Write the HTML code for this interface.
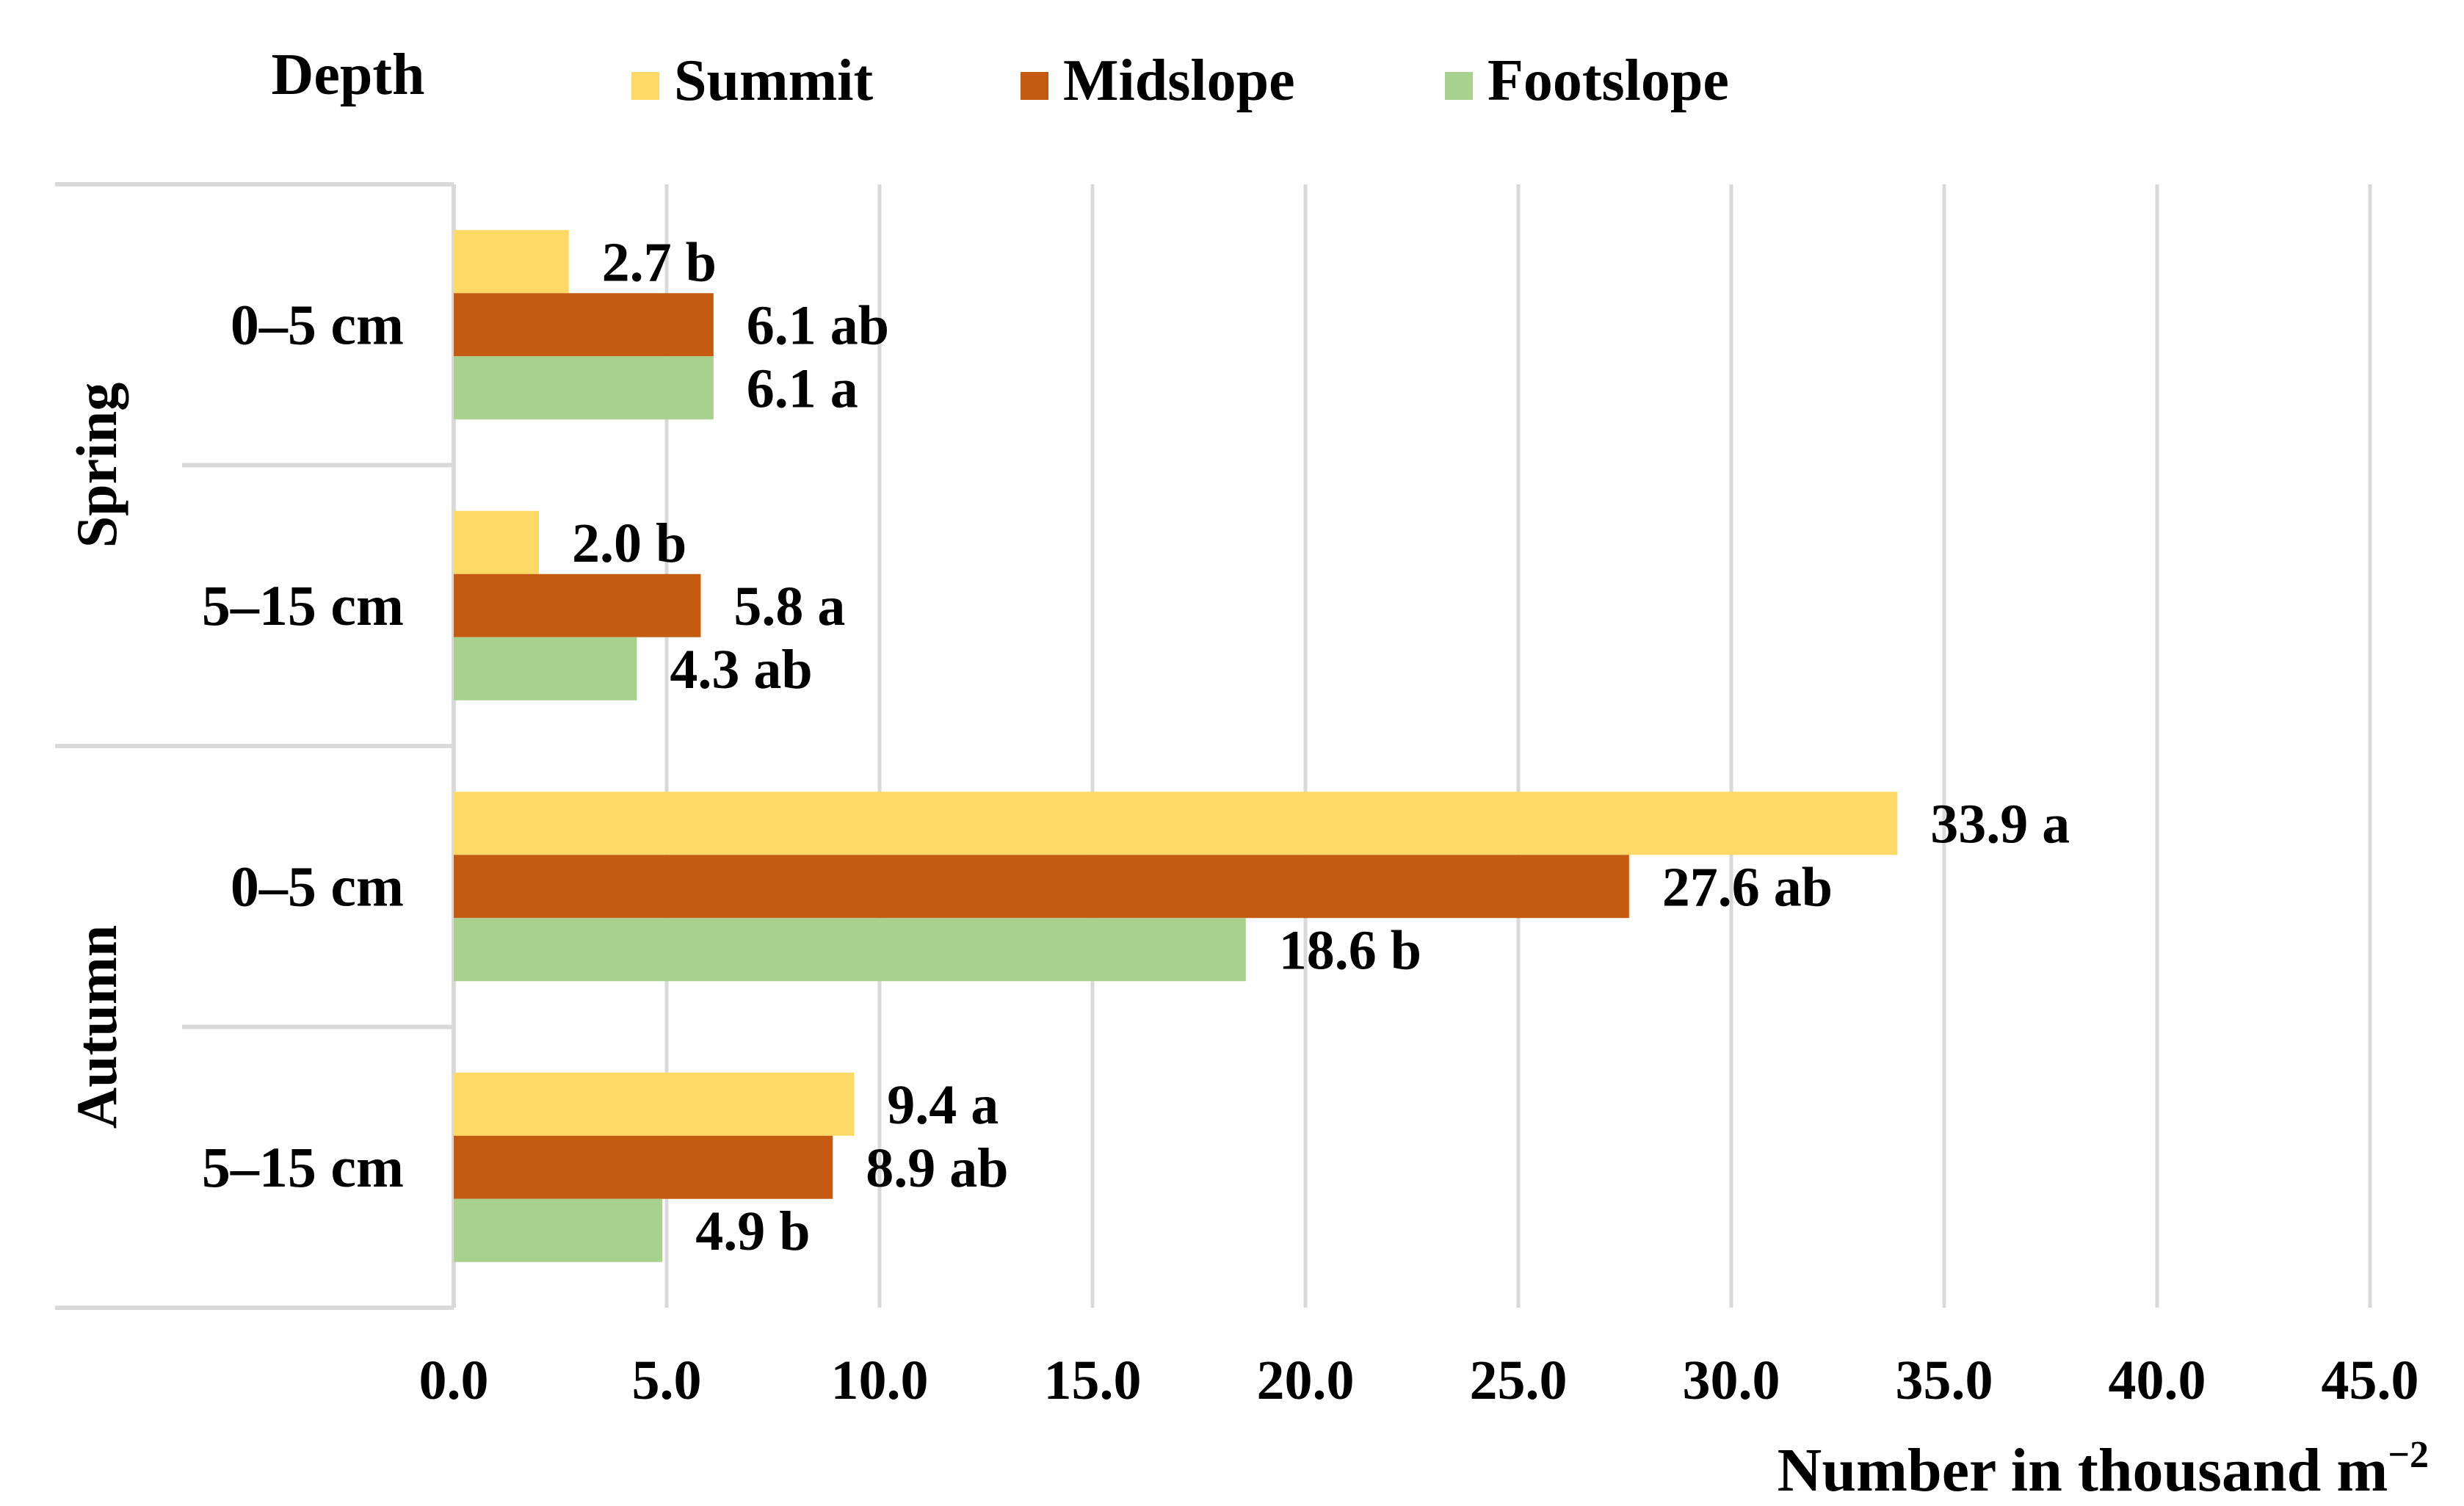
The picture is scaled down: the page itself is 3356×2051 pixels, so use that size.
<!DOCTYPE html>
<html><head><meta charset="utf-8"><style>
html,body{margin:0;padding:0;background:#fff;}
svg{display:block;font-family:"Liberation Serif",serif;font-weight:bold;}
</style></head><body>
<svg id="chart" width="3356" height="2051" viewBox="0 0 3356 2051" xmlns="http://www.w3.org/2000/svg">
<g id="grid"></g>
<g id="frame"></g>
<g id="bars"></g>
<g id="labels"></g>
<g id="ticks"></g>
<g id="cats"></g>
<g>
  <text x="474" y="128" font-size="80" text-anchor="middle">Depth</text>
  <rect x="860" y="98" width="38" height="38" fill="#FFD966"/>
  <text x="918" y="136" font-size="80">Summit</text>
  <rect x="1390" y="98" width="38" height="38" fill="#C55A11"/>
  <text x="1448" y="136" font-size="80">Midslope</text>
  <rect x="1968" y="98" width="38" height="38" fill="#A9D18E"/>
  <text x="2026" y="136" font-size="80">Footslope</text>
</g>
<text x="3308" y="2030" font-size="84" text-anchor="end">Number in thousand m<tspan font-size="52" dy="-32">−2</tspan></text>
</svg>
<script>
const categories = ["0–5 cm","5–15 cm","0–5 cm","5–15 cm"];
const seasons = ["Spring","Autumn"];
const summit = [2.7, 2.0, 33.9, 9.4];
const midslope = [6.1, 5.8, 27.6, 8.9];
const footslope = [6.1, 4.3, 18.6, 4.9];
const summitLetters = ["b","b","a","a"];
const midLetters = ["ab","a","ab","ab"];
const footLetters = ["a","ab","b","b"];
const ticks = [0,5,10,15,20,25,30,35,40,45];

const NS="http://www.w3.org/2000/svg";
const X0=618, UNIT=58.0, TOP=251, BOT=1781;
const bandH=(BOT-TOP)/categories.length, barH=86;
const x=v=>X0+v*UNIT;
function mk(tag,attrs,parent){const e=document.createElementNS(NS,tag);for(const k in attrs)e.setAttribute(k,attrs[k]);document.getElementById(parent).appendChild(e);return e;}

ticks.forEach(t=>{
  if(t>0){const l=mk('line',{x1:x(t),x2:x(t),y1:TOP,y2:BOT,stroke:'#d9d9d9','stroke-width':5},'grid');
  
  }
  const tx=mk('text',{x:x(t),y:1905,'font-size':76,'text-anchor':'middle'},'ticks');
  tx.textContent=t.toFixed(1);
  
  
});
const ax=mk('line',{x1:X0,x2:X0,y1:TOP,y2:BOT,stroke:'#d9d9d9','stroke-width':6},'frame');


for(let i=0;i<=categories.length;i++){
  const y=TOP+i*bandH;
  const l=mk('line',{x1:(i%2===0)?75:248,x2:X0,y1:y,y2:y,stroke:'#d9d9d9','stroke-width':6},'frame');
  
  
}
const series=[[summit,'#FFD966',summitLetters,'summit'],[midslope,'#C55A11',midLetters,'midslope'],[footslope,'#A9D18E',footLetters,'footslope']];
categories.forEach((c,i)=>{
  const cy=TOP+i*bandH+bandH/2;
  const ct=mk('text',{x:550,y:cy+26,'font-size':78,'text-anchor':'end'},'cats');
  ct.textContent=c;
  
  
  series.forEach((s,j)=>{
    const y=cy-1.5*barH+j*barH;
    const r=mk('rect',{x:X0,y:y,width:x(s[0][i])-X0,height:barH,fill:s[1]},'bars');
    
    
    const t=mk('text',{x:x(s[0][i])+45,y:y+barH/2+26,'font-size':76},'labels');
    t.textContent=s[0][i].toFixed(1)+' '+s[2][i];
    
    
  });
});
seasons.forEach((s,i)=>{
  const cy=TOP+(2*i+1)*bandH;
  const t=mk('text',{x:0,y:0,'font-size':78,'text-anchor':'middle',transform:`translate(158,${cy}) rotate(-90)`},'cats');
  t.textContent=s;
  
  
});
</script>
</body></html>
